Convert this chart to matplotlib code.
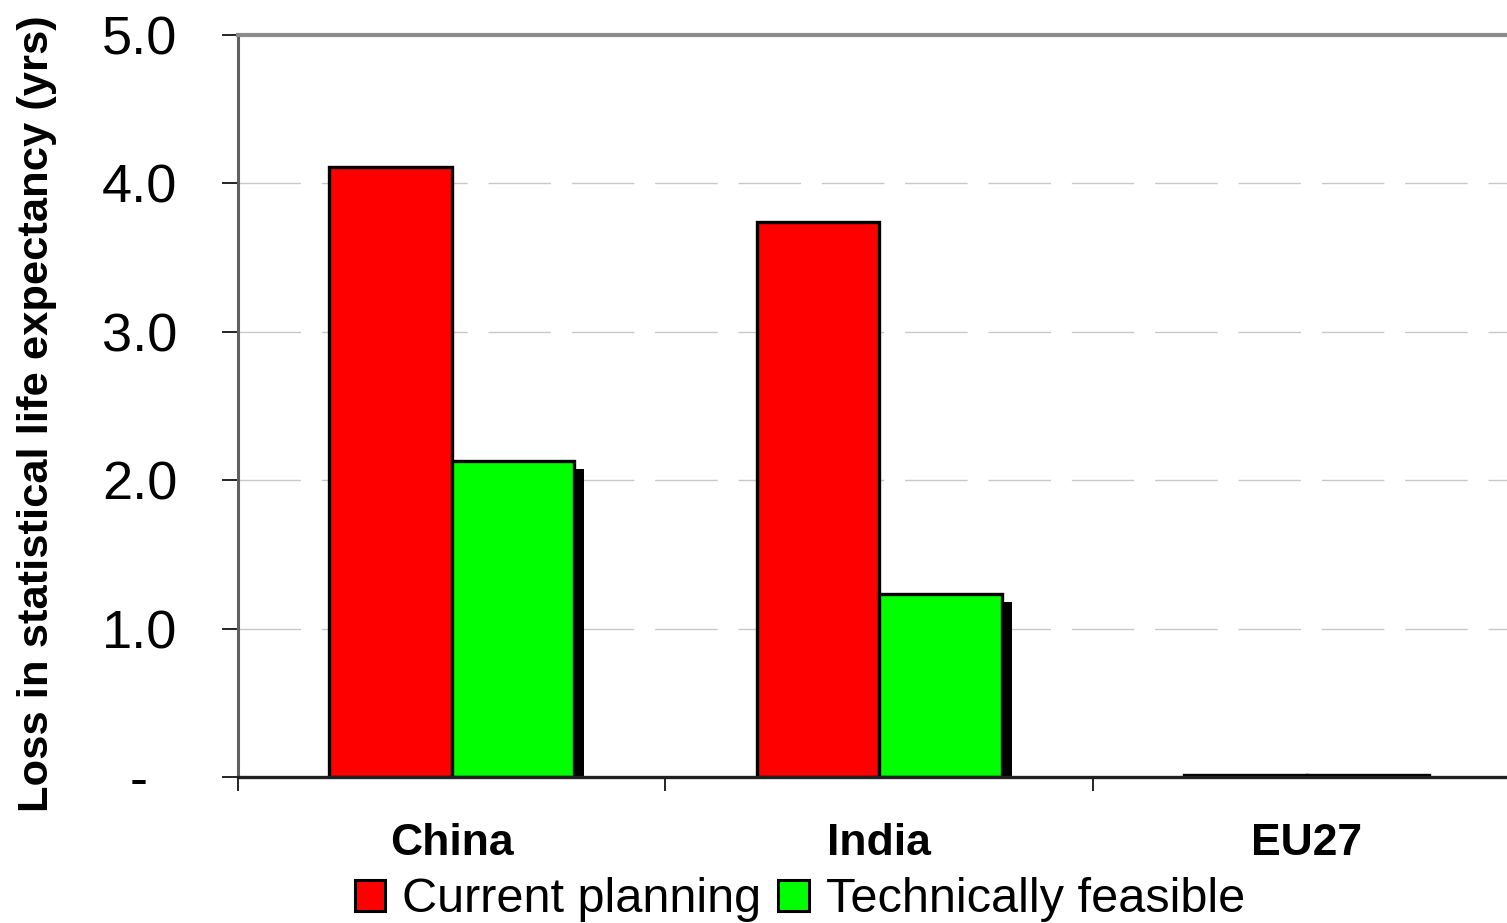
import matplotlib
matplotlib.use("Agg")
import matplotlib.pyplot as plt
from matplotlib.patches import Patch
import numpy as np

categories = ["China", "India", "EU27"]
current_planning = [4.11, 3.74, 0.015]
technically_feasible = [2.13, 1.23, 0.015]
y_ticks = [0, 1, 2, 3, 4, 5]
y_tick_labels = ["-  ", "1.0", "2.0", "3.0", "4.0", "5.0"]

plt.rcParams['font.family'] = ['Liberation Sans', 'DejaVu Sans']

fig = plt.figure(figsize=(15.07, 9.23), dpi=100)
ax = fig.add_axes([238/1507, 146/923, 1282.5/1507, 742/923])

x = np.arange(len(categories))
w = 0.286
px_x = 1/427.5
px_y = 1/148.4

# shadows for green bars
sh_dx = 10 * px_x
sh_dy = 8 * px_y
tf = np.array(technically_feasible)
ax.bar(x + w/2 + sh_dx, tf, width=w, bottom=-sh_dy, color='black', zorder=2)

ax.bar(x - w/2, current_planning, width=w, color='#ff0000', edgecolor='black', linewidth=2.4, zorder=3)
ax.bar(x + w/2, technically_feasible, width=w, color='#00ff00', edgecolor='black', linewidth=2.4, zorder=3)

ax.set_xlim(-0.5, 2.5)
ax.set_ylim(0, 5)

ax.set_yticks(y_ticks)
ax.set_yticklabels(y_tick_labels, fontsize=39)
ax.set_xticks(x)
ax.set_xticklabels(categories, fontsize=32, fontweight='bold')
ax.set_xticks([-0.5, 0.5, 1.5], minor=True)
ax.tick_params(axis='x', which='major', length=0, pad=33)
ax.tick_params(axis='x', which='minor', length=10, width=1.2, color='black', direction='out')
ax.tick_params(axis='y', which='major', length=11.5, width=1.2, color='black', direction='out', pad=32)

for yv in [1, 2, 3, 4]:
    ax.axhline(yv, color='#c8c8c8', linewidth=1, linestyle=(0, (45, 15)), zorder=1)

ax.spines['top'].set_color('#8c8c8c')
ax.spines['top'].set_linewidth(3)
ax.spines['left'].set_color('#606060')
ax.spines['left'].set_linewidth(2.2)
ax.spines['bottom'].set_color('#202020')
ax.spines['bottom'].set_linewidth(2.4)
ax.spines['right'].set_visible(False)
ax.spines['bottom'].set_zorder(4)

ax.set_ylabel("Loss in statistical life expectancy (yrs)", fontsize=31.3, fontweight='bold')
ax.yaxis.set_label_coords(-0.141, 0.49)

handles = [Patch(facecolor='#ff0000', edgecolor='black', linewidth=2.2),
           Patch(facecolor='#00ff00', edgecolor='black', linewidth=2.2)]
fig.legend(handles, ["Current planning", "Technically feasible"], loc='center',
           bbox_to_anchor=(800/1507, 1 - 900/923), ncol=2, frameon=False, fontsize=35,
           handlelength=0.62, handleheight=0.62, handletextpad=0.35, columnspacing=0.35,
           borderpad=0)

fig.savefig("out.png", dpi=100)
